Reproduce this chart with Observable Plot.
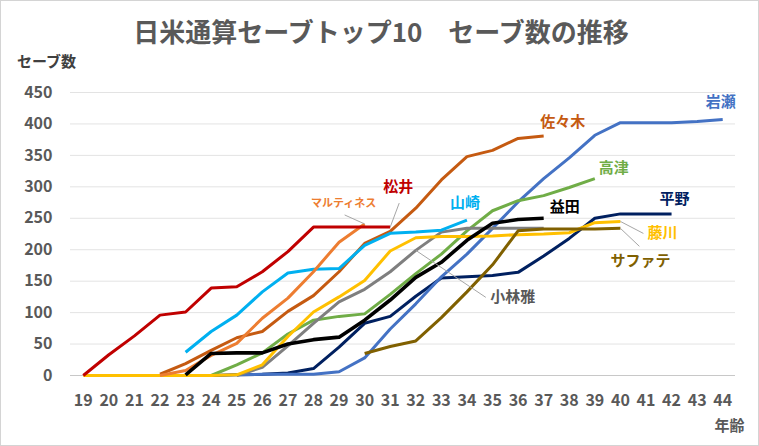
<!DOCTYPE html>
<html><head><meta charset="utf-8">
<script src="https://cdn.jsdelivr.net/npm/d3@7"></script>
<script src="https://cdn.jsdelivr.net/npm/@observablehq/plot@0.6"></script>
<style>
body{margin:0;background:#fff}
#chart{width:759px;height:446px;position:relative;outline:1px solid #d4d4d4;outline-offset:-1px;overflow:hidden}
</style></head><body><div id="chart"></div>
<script>
// ---- data ----
const ages = d3.range(19, 45);            // x tick labels 19..44
const yTicks = d3.range(0, 451, 50);      // y tick labels 0..450

const names  = ["岩瀬","佐々木","高津","平野","益田","藤川","サファテ","小林雅","山崎","松井","マルティネス"];
const starts = [25, 22, 24, 22, 23, 19, 30, 25, 23, 19, 22];
const colors = ["#4472C4","#C55A11","#70AD47","#002060","#000000","#FFC000","#806000","#7F7F7F","#00B0F0","#C00000","#ED7D31"];

const iwase     = [1,2,2,2,6,28,74,114,157,193,234,276,313,346,382,402,402,402,404,407];
const sasaki    = [2,19,40,60,70,102,127,165,210,229,266,311,348,358,377,381];
const takatsu   = [0,17,36,66,88,94,98,129,162,193,230,262,278,286,299,313];
const hirano    = [0,0,0,1,2,4,11,45,83,94,126,155,157,159,164,190,218,250,257,257,257];
const masuda    = [1,35,36,36,50,57,61,88,120,156,180,215,242,248,250];
const fujikawa  = [0,0,0,0,0,0,1,17,62,101,125,151,198,219,221,221,222,224,225,227,243,245];
const sarfate   = [35,46,55,92,133,176,230,233,233,233,234];
const kobayashi = [0,13,47,83,117,137,165,199,228,234,234,234,234];
const yamasaki  = [37,70,96,133,163,169,170,207,226,228,231,247];
const matsui    = [0,33,63,96,101,139,141,165,197,236,236,236,236];
const martinez  = [0,8,32,51,91,123,165,212,241];

const seriesValues = [iwase, sasaki, takatsu, hirano, masuda, fujikawa, sarfate, kobayashi, yamasaki, matsui, martinez];

// ---- table built from the arrays ----
const rows = [];
names.forEach((n, i) => seriesValues[i].forEach((v, j) => rows.push({name: n, age: starts[i] + j, saves: v})));
const color = Object.fromEntries(names.map((n, i) => [n, colors[i]]));

// ---- layout ----
const W = 759, H = 446, mL = 70, mR = 24, mT = 92, mB = 71;
const kx = (W - mL - mR) / 26, ky = (H - mT - mB) / 450;
const FONT = "'Noto Sans CJK JP', 'Noto Sans', sans-serif";

// label placement: anchor on the series, pixel offsets, optional connector (pixel offsets)
const labelCfg = [
  {name: "岩瀬", at: "last", dx: -2, dy: -17},
  {name: "佐々木", at: "last", dx: 19, dy: -14},
  {name: "高津", at: "last", dx: 19, dy: -10},
  {name: "平野", at: "last", dx: 3, dy: -15},
  {name: "益田", at: "last", dx: 21, dy: -11},
  {name: "藤川", at: "last", dx: 42, dy: 12, cx: 23, cy: 12},
  {name: "サファテ", at: "last", dx: 20, dy: 33, cx: 19, cy: 18},
  {name: "小林雅", at: 32, dx: 97, dy: 47, cx: 70, cy: 47},
  {name: "山崎", at: "last", dx: -2, dy: -17},
  {name: "松井", at: "last", dx: 8, dy: -40, cx: 9, cy: -24},
  {name: "マルティネス", at: "last", dx: -21, dy: -20, cx: -20, cy: -9, size: 11}
];
function anchorRow(c) {
  const rs = rows.filter(d => d.name === c.name);
  return c.at === "last" ? rs[rs.length - 1] : rs.find(d => d.age === c.at);
}

const drawOrder = ["平野","岩瀬","高津","小林雅","藤川","サファテ","佐々木","山崎","マルティネス","松井","益田"];

const marks = [
  Plot.ruleY(yTicks.filter(d => d > 0), {stroke: "#e3e3e3", strokeWidth: 1}),
  Plot.ruleY([0], {stroke: "#c8c8c8", strokeWidth: 1}),
  ...drawOrder.map(n => Plot.line(rows.filter(d => d.name === n), {
    x: "age", y: "saves", stroke: color[n], strokeWidth: n === "益田" ? 3.6 : 3,
    strokeLinejoin: "round", strokeLinecap: "butt"
  })),
  ...labelCfg.filter(c => c.cx !== undefined).map(c => {
    const a = anchorRow(c);
    return Plot.link([a], {
      x1: "age", y1: "saves",
      x2: d => d.age + c.cx / kx, y2: d => d.saves - c.cy / ky,
      stroke: "#a6a6a6", strokeWidth: 1
    });
  }),
  ...labelCfg.map(c => Plot.text([anchorRow(c)], {
    x: "age", y: "saves", text: () => c.name, dx: c.dx, dy: c.dy,
    fill: c.name === "小林雅" ? "#595959" : color[c.name],
    fontSize: c.size || 15, fontWeight: "bold", fontFamily: FONT, lineAnchor: "middle"
  })),
  Plot.text(["日米通算セーブトップ10　セーブ数の推移"], {frameAnchor: "top", lineAnchor: "middle", dx: -22, dy: -59, fontSize: 26, fill: "#595959", fontFamily: FONT}),
  Plot.text(["セーブ数"], {frameAnchor: "top-left", lineAnchor: "middle", textAnchor: "middle", dx: -24, dy: -30, fontSize: 15, fontWeight: "bold", fill: "#404040", fontFamily: FONT}),
  Plot.text(["年齢"], {frameAnchor: "bottom-right", lineAnchor: "middle", textAnchor: "middle", dx: -6, dy: 51, fontSize: 15, fontWeight: "bold", fill: "#595959", fontFamily: FONT})
];

const chart = Plot.plot({
  width: W, height: H,
  marginLeft: mL, marginRight: mR, marginTop: mT, marginBottom: mB,
  style: {fontFamily: FONT, fontSize: "16px", fontWeight: "bold", color: "#595959", background: "transparent", overflow: "visible"},
  x: {type: "linear", domain: [18.5, 44.5], ticks: ages, tickFormat: d => String(d), tickSize: 0, tickPadding: 19, label: null},
  y: {domain: [0, 450], ticks: yTicks, tickSize: 0, tickPadding: 18, label: null},
  marks
});
document.getElementById("chart").appendChild(chart);
</script></body></html>
